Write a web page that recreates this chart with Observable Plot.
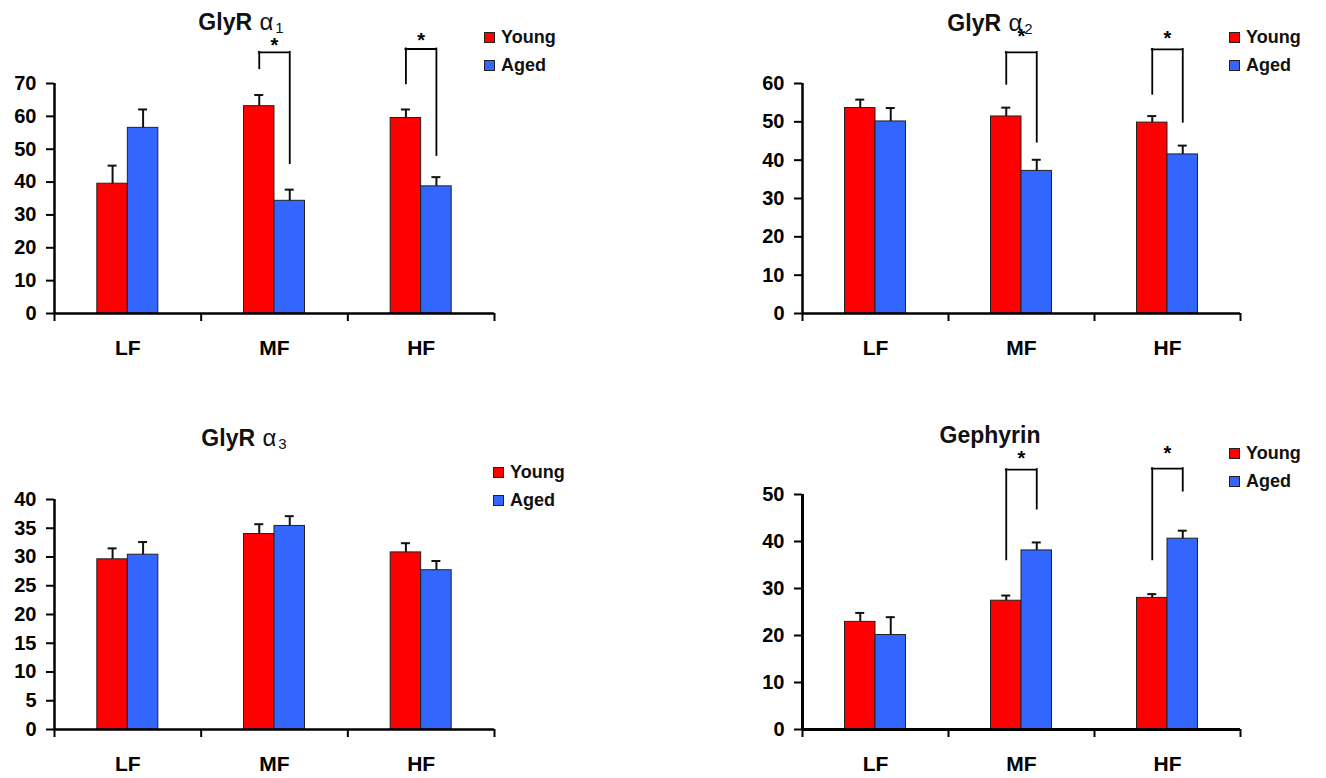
<!DOCTYPE html>
<html>
<head>
<meta charset="utf-8">
<script src="https://cdn.jsdelivr.net/npm/d3@7"></script>
<script src="https://cdn.jsdelivr.net/npm/@observablehq/plot@0.6"></script>
<style>
  body { margin: 0; background: #fff; }
  #wrap { position: relative; width: 1326px; height: 778px; overflow: hidden;
          font-family: "Liberation Sans", Arial, sans-serif; color: #000; }
  .panel { position: absolute; }
  .title { position: absolute; font-weight: bold; font-size: 23px; line-height: 22px;
           white-space: nowrap; transform: translateX(-50%); color: #111; }
  .title .g { font-weight: normal; font-size: 24px; margin-left: 1px; }
  .title sub { font-weight: normal; font-size: 15px; vertical-align: baseline;
               position: relative; top: 3px; margin-left: 2px; }
  .legend { position: absolute; font-weight: bold; font-size: 18px; color: #111; }
  .legend .row { display: flex; align-items: center; height: 28px; }
  .legend .sw { width: 9px; height: 9px; border: 1px solid #222; margin-right: 6px; }
</style>
</head>
<body>
<div id="wrap"></div>
<script>
// ---------- data ----------
const categories = ["LF", "MF", "HF"];
const groups = ["Young", "Aged"];
const groupColors = ["#FF0000", "#3366FF"];

// GlyR alpha1
const a1Young = [39.5, 63.1, 59.5];
const a1YoungErr = [5.5, 3.4, 2.6];
const a1Aged = [56.5, 34.3, 38.7];
const a1AgedErr = [5.6, 3.4, 2.8];
const a1SigCats = ["MF", "HF"];
const a1SigYoungEnd = [74.5, 69.9];
const a1SigAgedEnd = [45.6, 48.1];
const a1SigTop = [79.5, 80.5];
const a1SigStar = [82.6, 84.1];

// GlyR alpha2
const a2Young = [53.6, 51.4, 49.8];
const a2YoungErr = [2.2, 2.3, 1.7];
const a2Aged = [50.1, 37.2, 41.5];
const a2AgedErr = [3.5, 2.9, 2.3];
const a2SigCats = ["MF", "HF"];
const a2SigYoungEnd = [59.8, 57.2];
const a2SigAgedEnd = [44.7, 49.9];
const a2SigTop = [68.1, 68.9];
const a2SigStar = [72.9, 72.4];

// GlyR alpha3
const a3Young = [29.6, 34.0, 30.8];
const a3YoungErr = [1.9, 1.7, 1.6];
const a3Aged = [30.4, 35.4, 27.7];
const a3AgedErr = [2.2, 1.7, 1.6];

// Gephyrin
const gYoung = [22.9, 27.4, 28.0];
const gYoungErr = [1.9, 1.1, 0.8];
const gAged = [20.1, 38.1, 40.6];
const gAgedErr = [3.8, 1.7, 1.7];
const gSigCats = ["MF", "HF"];
const gSigYoungEnd = [36.1, 36.1];
const gSigAgedEnd = [46.9, 50.7];
const gSigTop = [55.3, 55.5];
const gSigStar = [58.2, 59.3];

// ---------- layout ----------
const W = 663, H = 389;
const BAR = 30.5, CAP = 9;
const FONT = '"Liberation Sans", Arial, sans-serif';

const panels = [
  {left: 0, top: 0, ml: 54, mr: 169, mt: 83, mb: 76, max: 70, step: 10, ax: 2.5,
   young: a1Young, youngErr: a1YoungErr, aged: a1Aged, agedErr: a1AgedErr,
   sigCats: a1SigCats, sigYoung: a1SigYoungEnd, sigAged: a1SigAgedEnd, sigTop: a1SigTop, sigStar: a1SigStar,
   title: ["GlyR ", "α", "1"], tx: 241, ty: 11, lx: 484, ly: 23},
  {left: 663, top: 0, ml: 139, mr: 86, mt: 83, mb: 76, max: 60, step: 10, ax: 2.5,
   young: a2Young, youngErr: a2YoungErr, aged: a2Aged, agedErr: a2AgedErr,
   sigCats: a2SigCats, sigYoung: a2SigYoungEnd, sigAged: a2SigAgedEnd, sigTop: a2SigTop, sigStar: a2SigStar,
   title: ["GlyR ", "α", "2"], tx: 990, ty: 12, lx: 1229, ly: 23},
  {left: 0, top: 389, ml: 54, mr: 169, mt: 110, mb: 49, max: 40, step: 5, ax: 2.5,
   young: a3Young, youngErr: a3YoungErr, aged: a3Aged, agedErr: a3AgedErr,
   sigCats: [], sigYoung: [], sigAged: [], sigTop: [], sigStar: [],
   title: ["GlyR ", "α", "3"], tx: 244, ty: 427, lx: 493, ly: 458},
  {left: 663, top: 389, ml: 139, mr: 86, mt: 105, mb: 49, max: 50, step: 10, ax: 3,
   young: gYoung, youngErr: gYoungErr, aged: gAged, agedErr: gAgedErr,
   sigCats: gSigCats, sigYoung: gSigYoungEnd, sigAged: gSigAgedEnd, sigTop: gSigTop, sigStar: gSigStar,
   title: ["Gephyrin"], tx: 990, ty: 424, lx: 1229, ly: 439}
];

function drawPanel(p) {
  const young = categories.map((c, i) => ({cat: c, group: groups[0], v: p.young[i], e: p.youngErr[i]}));
  const aged = categories.map((c, i) => ({cat: c, group: groups[1], v: p.aged[i], e: p.agedErr[i]}));
  const sig = p.sigCats.map((c, i) => ({cat: c, ya: p.sigYoung[i], yb: p.sigAged[i], top: p.sigTop[i], star: p.sigStar[i]}));
  const bw = (W - p.ml - p.mr) / categories.length;
  const half = BAR / 2;
  const ink = "#000";
  const errStyle = {stroke: "#111", strokeWidth: 2};
  const brStyle = {stroke: ink, strokeWidth: 1.8, strokeLinecap: "square"};
  return Plot.plot({
    width: W, height: H,
    marginLeft: p.ml, marginRight: p.mr, marginTop: p.mt, marginBottom: p.mb,
    x: {domain: categories, padding: 0, round: false, label: null},
    y: {domain: [0, p.max], label: null},
    style: {fontFamily: FONT, color: "#000", background: "transparent", overflow: "visible"},
    marks: [
      Plot.barY(young, {x: "cat", y: "v", fill: groupColors[0], stroke: "#222", strokeWidth: 1,
                        insetLeft: bw / 2 - BAR, insetRight: bw / 2}),
      Plot.barY(aged, {x: "cat", y: "v", fill: groupColors[1], stroke: "#222", strokeWidth: 1,
                       insetLeft: bw / 2, insetRight: bw / 2 - BAR}),
      Plot.ruleX(young, {x: "cat", y1: "v", y2: d => d.v + d.e, dx: -half, ...errStyle}),
      Plot.tickY(young, {x: "cat", y: d => d.v + d.e, dx: -half,
                         insetLeft: bw / 2 - CAP / 2, insetRight: bw / 2 - CAP / 2, ...errStyle}),
      Plot.ruleX(aged, {x: "cat", y1: "v", y2: d => d.v + d.e, dx: half, ...errStyle}),
      Plot.tickY(aged, {x: "cat", y: d => d.v + d.e, dx: half,
                        insetLeft: bw / 2 - CAP / 2, insetRight: bw / 2 - CAP / 2, ...errStyle}),
      // significance brackets
      Plot.ruleX(sig, {x: "cat", y1: "ya", y2: "top", dx: -half, ...brStyle}),
      Plot.ruleX(sig, {x: "cat", y1: "yb", y2: "top", dx: half, ...brStyle}),
      Plot.ruleY(sig, {x1: "cat", x2: "cat", y: "top", insetLeft: bw / 2 - half, insetRight: bw / 2 - half, ...brStyle}),
      Plot.text(sig, {x: "cat", y: "star", text: () => "*", fontSize: 20, fontWeight: "bold", dy: 3, fill: ink}),
      // axes
      Plot.axisY({ticks: d3.range(0, p.max + p.step / 2, p.step), tickSize: 8, tickPadding: 10,
                  fontSize: 20, fontWeight: "bold", strokeWidth: 2, tickFormat: d => String(d), label: null}),
      Plot.ruleX([categories[0]], {x: d => d, dx: -bw / 2, y1: () => 0, y2: () => p.max, stroke: ink, strokeWidth: p.ax}),
      Plot.ruleY([0], {stroke: ink, strokeWidth: p.ax}),
      Plot.ruleX(categories, {x: d => d, dx: -bw / 2, y1: () => 0, y2: () => 0, insetBottom: -8, stroke: ink, strokeWidth: 2}),
      Plot.ruleX([categories[categories.length - 1]], {x: d => d, dx: bw / 2, y1: () => 0, y2: () => 0, insetBottom: -8, stroke: ink, strokeWidth: 2}),
      Plot.axisX({tickSize: 0, tickPadding: 27, fontSize: 21, fontWeight: "bold", label: null})
    ]
  });
}

const wrap = document.getElementById("wrap");
for (const p of panels) {
  const holder = document.createElement("div");
  holder.className = "panel";
  holder.style.left = p.left + "px";
  holder.style.top = p.top + "px";
  holder.appendChild(drawPanel(p));
  wrap.appendChild(holder);

  const t = document.createElement("div");
  t.className = "title";
  t.style.left = p.tx + "px";
  t.style.top = p.ty + "px";
  t.appendChild(document.createTextNode(p.title[0]));
  if (p.title.length > 1) {
    const g = document.createElement("span"); g.className = "g"; g.textContent = p.title[1];
    const s = document.createElement("sub"); s.textContent = p.title[2];
    t.appendChild(g); t.appendChild(s);
  }
  wrap.appendChild(t);

  const lg = document.createElement("div");
  lg.className = "legend";
  lg.style.left = p.lx + "px";
  lg.style.top = p.ly + "px";
  groups.forEach((name, i) => {
    const row = document.createElement("div"); row.className = "row";
    const sw = document.createElement("div"); sw.className = "sw"; sw.style.background = groupColors[i];
    const tx = document.createElement("span"); tx.textContent = name;
    row.appendChild(sw); row.appendChild(tx);
    lg.appendChild(row);
  });
  wrap.appendChild(lg);
}
</script>
</body>
</html>
